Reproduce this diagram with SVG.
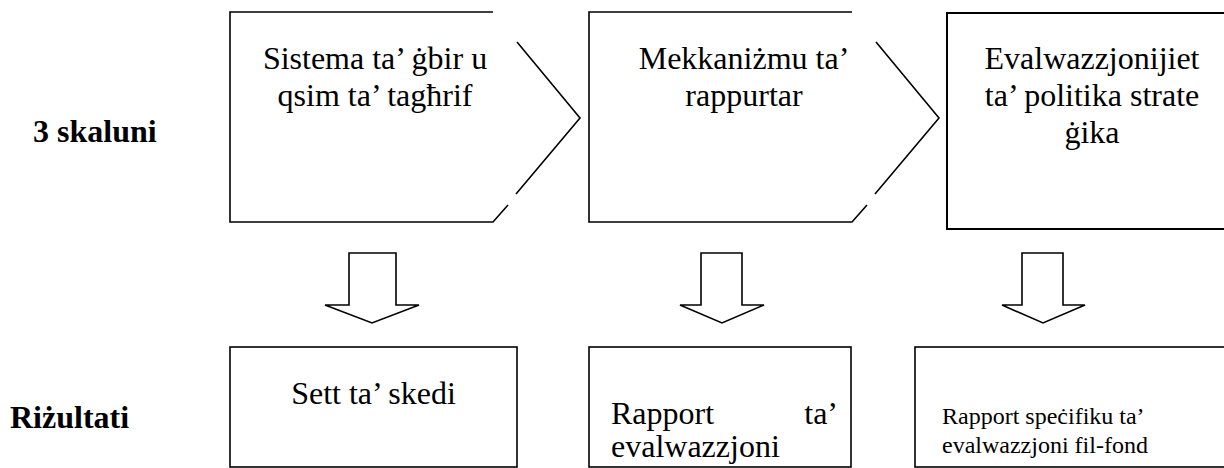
<svg xmlns="http://www.w3.org/2000/svg" width="1224" height="468" viewBox="0 0 1224 468">
<style>
.ln{fill:none;stroke:#000;stroke-width:1.6;stroke-linejoin:miter}
.bx{fill:#fff;stroke:#000;stroke-width:1.6}
text{font-family:'Liberation Serif','Times New Roman','DejaVu Serif',serif;fill:#000}
.t{font-size:32px}
.s{font-size:24px}
.b{font-size:32px;font-weight:bold}
</style>
<rect width="1224" height="468" fill="#fff"/>
<g id="labels">
<text class="b" x="33" y="142">3 skaluni</text>
<text class="b" x="10" y="428">Riżultati</text>
</g>
<g id="step1">
<path class="ln" d="M493,12 H230 V222 H493 L508,205 M516,194 L580,118 L517,42"/>
<text class="t" x="375" y="69" text-anchor="middle">Sistema ta’ ġbir u</text>
<text class="t" x="375" y="106" text-anchor="middle">qsim ta’ tagħrif</text>
</g>
<g id="step2">
<path class="ln" d="M852,12 H589 V222 H852 L867,205 M875,194 L939,118 L876,42"/>
<text class="t" x="744" y="69" text-anchor="middle">Mekkaniżmu ta’</text>
<text class="t" x="744" y="106" text-anchor="middle">rappurtar</text>
</g>
<g id="step3">
<rect class="bx" x="947" y="13" width="290" height="216" style="stroke-width:2"/>
<text class="t" x="1092" y="69" text-anchor="middle">Evalwazzjonijiet</text>
<text class="t" x="1092" y="106" text-anchor="middle">ta’ politika strate</text>
<text class="t" x="1092" y="143" text-anchor="middle">ġika</text>
</g>
<g id="connectors">
<path class="ln" d="M349,253 H396 V305 H419 L372,323 L325,305 H349 Z"/>
<path class="ln" d="M701,253 H742 V305 H764 L722,323 L680,305 H701 Z"/>
<path class="ln" d="M1022,253 H1063 V305 H1085 L1043,323 L1002,305 H1022 Z"/>
</g>
<g id="result1">
<rect class="bx" x="230" y="347" width="287" height="120"/>
<text class="t" x="373.5" y="404" text-anchor="middle">Sett ta’ skedi</text>
</g>
<g id="result2">
<rect class="bx" x="589" y="347" width="262" height="120"/>
<text class="t" x="611" y="424">Rapport</text>
<text class="t" x="838" y="424" text-anchor="end">ta’</text>
<text class="t" x="611" y="457">evalwazzjoni</text>
</g>
<g id="result3">
<rect class="bx" x="915" y="347" width="320" height="120"/>
<text class="s" x="942" y="424">Rapport speċifiku ta’</text>
<text class="s" x="942" y="453">evalwazzjoni fil-fond</text>
</g>
</svg>
